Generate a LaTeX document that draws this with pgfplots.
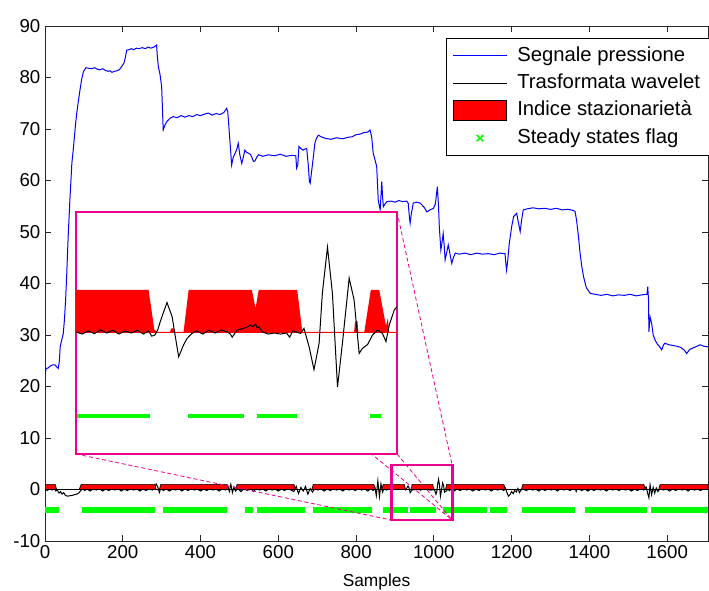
\documentclass[border=0pt]{standalone}
\usepackage{fontspec}
\setmainfont{Liberation Sans}
\usepackage{pgfplots}
\pgfplotsset{compat=1.18}
\begin{document}
\begin{tikzpicture}
\begin{axis}[
  at={(0,0)}, anchor=south west,
  width=497.25pt, height=386.25pt, scale only axis,
  xmin=0, xmax=1705, ymin=-10, ymax=90,
  xtick={0,200,...,1600}, ytick={-10,0,...,90},
  tick align=inside, major tick length=4.5pt,
  axis line style={line width=0.75pt, black!85},
  every tick/.style={line width=0.75pt, black!85},
  tick label style={font=\fontsize{14}{16}\selectfont},
  /pgf/number format/assume math mode=true,
  /pgf/number format/1000 sep={},
  xlabel={Samples},
  xlabel style={font=\fontsize{13}{15}\selectfont, at={(axis description cs:0.5,0)}, anchor=center, yshift=-30.75pt},
  legend cell align=left,
  legend style={at={(rel axis cs:0.6043,0.9765)}, anchor=north west, draw=black, fill=white,
    font=\fontsize{15.2}{17}\selectfont, inner xsep=5pt, inner ysep=4pt, row sep=2.6pt,
    nodes={inner sep=1.5pt, text height=11.5pt, text depth=3.5pt}},
  clip=true,
]
% Segnale pressione
\addplot[blue, line width=0.75pt, legend image code/.code={\draw[draw=blue,line width=1.1pt] (0pt,0pt)--(40pt,0pt); \path (44pt,0pt);}] coordinates {
(0,22.2)(3,23.5)(8,23.6)(14,24.0)(20,24.2)(26,24.2)(30,23.8)(34,23.5)(37,25)(39,27.7)(43,29)(47,30.3)(50,33)(53,36.8)
(56,42)(58,46)(60,49.8)(62,53)(64,56.2)(66,59)(69,63.3)(72,65.5)(75,67.9)(78,70.5)(81.5,73.0)(85,75)(90,77.6)(94,79.5)
(98.6,81.1)(105,81.9)(112,81.8)(120,81.7)(128,81.9)(135,81.6)(141,81.5)(148,81.7)(155,81.4)(162,81.2)(167,81.3)(172,81.0)
(178,81.2)(185,81.3)(191,81.5)(197,82.1)(203,82.8)(207,84)(210,85.3)(216,85.4)(222,85.6)(228,85.4)(235,85.7)(242,85.6)
(250,85.8)(258,85.6)(265,85.9)(272,85.7)(280,85.9)(287,86.3)(289,84)(291.5,82.1)(296,80.5)(300,78.2)(302,74)(304,69.8)
(308.6,70.8)(314,71.5)(321.5,72.1)(330,72.4)(340,72.2)(350,72.6)(360,72.3)(370,72.6)(380,72.4)(390,72.8)(400,72.6)
(410,72.9)(420,73.1)(430,72.7)(440,73.0)(450,72.8)(460,73.2)(467,74.0)(470,73.4)(476,67.2)(480,63.0)(484,64.5)(489,65.3)
(493,66)(497,67.2)(501,65)(506,63.3)(510,64.5)(514,65.9)(518,65.5)(523,65.3)(528,65.1)(532,64.5)(536,63.7)(540,63.8)
(545,64.6)(549,65.0)(560,64.7)(575,65.0)(590,64.8)(605,65.1)(620,64.7)(635,64.9)(645,64.8)(647,62.4)(650,63)(653,66.6)
(658,66.2)(664,65.9)(668,66.1)(673,66.2)(677,63)(680,59.8)(682,59.5)(686,62)(690,64.5)(694,67.2)(698,68.2)(703,68.8)
(710,68.5)(720,68.2)(735,68.0)(750,68.3)(765,68.1)(780,68.4)(790,68.5)(800,68.9)(810,69.0)(820,69.3)(830,69.4)(836,69.8)
(840,68.5)(844,65.3)(848,64.2)(853,62.7)(857,56.2)(860,55)(862,54.3)(866,59.8)(868,57)(870,54.9)(875,55.5)(879,55.9)
(890,56.0)(900,55.8)(910,56.1)(920,55.9)(930,56.0)(934,55.6)(937,53)(939,51.7)(942,53.5)(947,55.6)(955,55.8)(965,55.6)
(975,54.8)(982,53.9)(990,54.3)(999,54.6)(1004,55.5)(1009,58.8)(1012,55)(1014,51.0)(1018,46.5)(1021,48)(1024,49.7)
(1027,47)(1029,44.6)(1033,46)(1037,47.5)(1042,45.5)(1046,43.9)(1050,45)(1055,45.9)(1065,45.7)(1080,45.9)(1095,45.6)
(1110,45.9)(1125,45.7)(1140,45.8)(1155,45.6)(1170,45.9)(1183,45.8)(1185,44)(1187,42.6)(1190,44.5)(1194,47.8)(1200,51)
(1205,53.0)(1213,53.6)(1217,52)(1222,50.1)(1226,52.5)(1230,54.3)(1240,54.5)(1255,54.7)(1270,54.5)(1285,54.6)(1300,54.4)
(1315,54.6)(1330,54.3)(1345,54.4)(1358,54.2)(1363,54.0)(1367,52.3)(1372,49)(1376,45.9)(1380,43.5)(1385,41.3)(1392,39.2)
(1402,38.1)(1415,37.9)(1430,37.7)(1445,37.9)(1460,37.6)(1475,37.8)(1490,37.7)(1505,37.9)(1520,37.6)(1535,37.8)(1548,37.9)
(1550,39.4)(1552,36.8)(1553,30.6)(1556,33.5)(1560,32.3)(1564,30)(1569,29.0)(1575,28.2)(1580,27.8)(1586,27.1)(1590,28.0)
(1594,28.4)(1605,28.1)(1620,27.9)(1635,27.6)(1645,27.0)(1650,26.4)(1658,27.2)(1670,27.6)(1685,28.1)(1695,27.8)(1705,27.7)
};
\addlegendentry{Segnale pressione}
% Trasformata wavelet
\addplot[black, line width=0.75pt, legend image code/.code={\draw[draw=black,line width=0.9pt] (0pt,0pt)--(40pt,0pt); \path (44pt,0pt);}] coordinates {
(0,0.1)(6,-0.2)(12,0.2)(18,-0.1)(24,0.3)(28,-0.3)(32,-0.1)(36,-0.7)(40,-0.4)(44,-0.9)(48,-0.6)(52,-1.1)(58,-1.3)(64,-1.2)
(70,-1.15)(76,-1.0)(82,-0.9)(88,-0.6)(92,-0.2)(96,0.2)(102,-0.2)(108,0.1)(116,-0.3)(124,0.1)(132,-0.1)(140,0.2)(148,-0.3)
(156,0.1)(164,-0.2)(172,0.15)(180,-0.1)(188,0.2)(196,-0.3)(204,0.1)(212,-0.2)(220,0.2)(228,-0.1)(236,0.1)(244,-0.3)
(252,0.1)(260,-0.2)(268,0.2)(276,-0.1)(282,0.4)(286,1.1)(290,0.5)(294,-0.6)(298,0.3)(304,-0.2)(312,0.1)(320,-0.3)
(328,0.1)(336,-0.1)(344,0.2)(352,-0.3)(360,0.1)(368,-0.2)(376,0.2)(384,-0.1)(392,0.1)(400,-0.3)(408,0.1)(416,-0.2)
(424,0.2)(432,-0.1)(440,0.1)(448,-0.3)(456,0.2)(464,-0.1)(470,0.7)(474,-0.4)(478,1.0)(482,-0.6)(486,0.5)(490,-0.3)
(496,0.2)(504,-0.4)(512,0.2)(520,-0.2)(528,0.3)(536,-0.4)(544,0.2)(552,-0.1)(560,0.1)(568,-0.3)(576,0.2)(584,-0.1)
(592,0.1)(600,-0.3)(608,0.1)(616,-0.2)(624,0.2)(632,-0.1)(640,-0.4)(646,0.6)(652,-0.8)(658,0.4)(664,-0.3)(670,0.6)
(676,-0.9)(682,0.2)(688,-0.5)(694,0.2)(702,-0.1)(710,0.1)(718,-0.3)(726,0.1)(734,-0.2)(742,0.2)(750,-0.1)(758,0.1)
(766,-0.3)(774,0.2)(782,-0.1)(790,0.1)(798,-0.2)(806,0.2)(814,-0.1)(822,0.1)(830,-0.3)(838,0.2)(844,-0.2)(848,0.6)
(852,-1.2)(856,1.7)(860,-1.4)(864,1.1)(868,-0.5)(872,0.2)(878,-0.1)(884,0.1)(889,0)(895,0.03)(901,0.05)(907,0.04)
(913,0.03)(919,0.04)(924.5,0.03)(927.5,-0.08)(930.2,0.25)(933.5,0.7)(936,0.37)(937.6,-0.12)(939.2,-0.6)(941.6,-0.3)
(945.7,-0.03)(951,-0.05)(957,-0.03)(964.5,-0.05)(965.4,-0.13)(971,0.09)(974.3,0.17)(976.8,0.19)(980,0)(986,-0.03)
(993.5,-0.13)(999,-0.03)(1000.5,0.08)(1003,-0.35)(1005.4,-0.9)(1007.9,-0.27)(1009.5,0.93)(1012,2.0)(1014.4,0.93)
(1016.9,-1.3)(1019.3,-0.27)(1022.6,1.28)(1025,0.77)(1027.5,-0.51)(1031.6,-0.3)(1036.5,0.05)(1040.6,-0.23)(1044.7,0.53)
(1048,0.1)(1052,-0.3)(1060,0.1)(1068,-0.2)(1076,0.2)(1084,-0.1)(1092,0.1)(1100,-0.3)(1108,0.1)(1116,-0.2)(1124,0.2)
(1132,-0.1)(1140,0.1)(1148,-0.3)(1156,0.2)(1164,-0.1)(1172,0.1)(1180,-0.2)(1184,0.3)(1188,-0.6)(1192,-1.3)(1196,-1.0)
(1200,-0.4)(1204,-0.8)(1208,-0.2)(1212,-0.5)(1216,0.2)(1220,-0.6)(1224,-0.1)(1230,0.1)(1238,-0.2)(1246,0.2)(1254,-0.1)
(1262,0.1)(1270,-0.3)(1278,0.1)(1286,-0.2)(1294,0.2)(1302,-0.1)(1310,0.1)(1318,-0.3)(1326,0.2)(1334,-0.1)(1342,0.1)
(1350,-0.2)(1358,0.2)(1362,0.6)(1366,-0.4)(1370,0.5)(1374,0.1)(1380,-0.2)(1388,0.1)(1396,-0.3)(1404,0.1)(1412,-0.2)
(1420,0.2)(1428,-0.1)(1436,0.1)(1444,-0.3)(1452,0.2)(1460,-0.1)(1468,0.1)(1476,-0.2)(1484,0.2)(1492,-0.1)(1500,0.1)
(1508,-0.3)(1516,0.1)(1524,-0.2)(1532,0.2)(1540,-0.1)(1546,0.5)(1550,-0.8)(1553,-1.6)(1556,0.9)(1560,-1.0)(1564,0.4)
(1568,-0.7)(1572,0.3)(1576,-0.4)(1582,0.2)(1590,-0.1)(1598,0.1)(1606,-0.3)(1614,0.1)(1622,-0.2)(1630,0.2)(1638,-0.1)
(1646,0.1)(1654,-0.3)(1662,0.2)(1670,-0.1)(1678,0.1)(1686,-0.2)(1694,0.2)(1705,0)
};
\addlegendentry{Trasformata wavelet}
% Indice stazionarieta
\addplot[fill=red, draw=black, line width=0.5pt, legend image code/.code={\draw[fill=red, draw=black, line width=0.8pt] (0pt,-7.5pt) rectangle (40pt,7.5pt); \path (44pt,0pt);}] coordinates {
(0,0)(0,1)(26,1)(30,0)(88,0)(93,1)(282,1)(286,0)(294,0)(298,1)(468,1)(472,0)(490,0)(494,1)(640,1)(645,0)(686,0)(690,1)
(845,1)(850,0)(866,0)(870,1)(924,1)(927,0)(941,0)(944,1)(997,1)(1000,0)(1030,0)(1033,1)(1180,1)(1184,0)(1225,0)(1229,1)
(1540,1)(1544,0)(1578,0)(1582,1)(1705,1)(1705,0)
} \closedcycle;
\addlegendentry{Indice stazionariet\`a}
% Steady states flag
\addplot[green, line width=5pt, unbounded coords=jump,
  legend image code/.code={\draw[draw=green, line width=1.2pt] (17.5pt,-2.3pt)--(22.5pt,2.3pt) (17.5pt,2.3pt)--(22.5pt,-2.3pt); \path (44pt,0pt);}] coordinates {
(0,-4)(35,-4)(36,nan)(95,-4)(283,-4)(284,nan)(303,-4)(468,-4)(469,nan)(514,-4)(535,-4)(536,nan)(545,-4)(668,-4)(669,nan)
(690,-4)(840,-4)(841,nan)(870,-4)(933,-4)(934,nan)(938,-4)(1005,-4)(1006,nan)(1023,-4)(1136,-4)(1137,nan)(1144,-4)(1188,-4)
(1189,nan)(1226,-4)(1362,-4)(1363,nan)(1388,-4)(1548,-4)(1549,nan)(1558,-4)(1705,-4)
};
\addlegendentry{Steady states flag}
% zoom region and connectors
\draw[magenta, line width=0.6pt, dash pattern=on 3pt off 2pt] (axis cs:905.3,53.9) -- (axis cs:1047,4.76);
\draw[magenta, line width=0.6pt, dash pattern=on 3pt off 2pt] (axis cs:79.7,6.9) -- (axis cs:890,-5.92);
\draw[magenta, line width=0.6pt, dash pattern=on 3pt off 2pt] (axis cs:905.3,6.9) -- (axis cs:1047,-5.92);
\draw[magenta, line width=0.6pt, dash pattern=on 3pt off 2pt] (axis cs:79.7,53.9) -- (axis cs:1047,-5.92);
\draw[magenta, line width=2.2pt] (axis cs:890,-5.92) rectangle (axis cs:1047,4.76);
\end{axis}
% inset
\begin{axis}[
  at={(23.25pt,65.25pt)}, anchor=south west,
  width=240.75pt, height=181.5pt, scale only axis,
  xmin=889, xmax=1046, ymin=-5.8, ymax=5.7,
  xtick=\empty, ytick=\empty,
  axis line style={magenta, line width=2.2pt},
  axis background/.style={fill=white},
  clip=true,
]
\addplot[fill=red, draw=none] coordinates {
(889,0)(889,2)(924.5,2)(927.3,0.1)(929,0)(935,0)(935.5,0.17)(936.7,0.17)(937,0)(941.6,0)(944.1,2)(975,2)(976.8,1.13)
(978.4,2)(997.2,2)(999.7,0)(1025,0)(1025.5,0.5)(1026.7,0.5)(1027,0)(1030,0)(1033.2,2)(1037.3,2)(1040,0.6)(1040.6,0.3)
(1041.5,0.65)(1042.2,0)(1046,0)
} \closedcycle;
\addplot[red, line width=0.6pt] coordinates {(889,0)(1046,0)};
\addplot[black, line width=0.75pt] coordinates {
(889,0.0)(892,-0.1)(895,0.05)(898,-0.08)(901,0.1)(904,-0.05)(907,0.08)(910,-0.1)(913,0.05)(916,-0.05)(919,0.08)(922,-0.1)
(924.5,0.05)(926,-0.2)(927.5,-0.15)(929,0.1)(930.2,0.49)(933.5,1.40)(936,0.73)(937.6,-0.23)(939.2,-1.18)(941.6,-0.62)
(943.3,-0.31)(945.7,-0.07)(948,0.05)(951,-0.1)(954,0.08)(957,-0.05)(960,0.1)(963,0.0)(964.5,-0.1)(965.4,-0.25)(967.8,0.09)
(971,0.17)(973,0.25)(974.3,0.33)(975.5,0.25)(976.8,0.38)(977.6,0.2)(978.4,0.25)(980,0.01)(983,-0.1)(986,-0.05)(989,-0.1)
(992,-0.05)(993.5,-0.25)(995,0.05)(998.9,-0.07)(1000.5,0.17)(1003,-0.70)(1005.4,-1.79)(1007.9,-0.54)(1009.5,1.85)
(1012,4.03)(1014.4,1.85)(1016.9,-2.62)(1019.3,-0.54)(1022.6,2.56)(1025,1.53)(1027.5,-1.02)(1029.1,-0.78)(1031.6,-0.6)
(1034,-0.15)(1036.5,0.09)(1038.9,-0.07)(1040.6,-0.46)(1042.2,0.33)(1044.7,1.05)(1046,1.2)
};
\addplot[green, line width=2.5pt, unbounded coords=jump] coordinates {
(889.6,-4)(925.3,-4)(926,nan)(943.6,-4)(971.4,-4)(972,nan)(977.6,-4)(997.2,-4)(998,nan)(1032.9,-4)(1038.1,-4)
};
\end{axis}
\pgfresetboundingbox
\useasboundingbox (-33.75pt,-36.75pt) rectangle (498pt,405.75pt);
\end{tikzpicture}
\end{document}
